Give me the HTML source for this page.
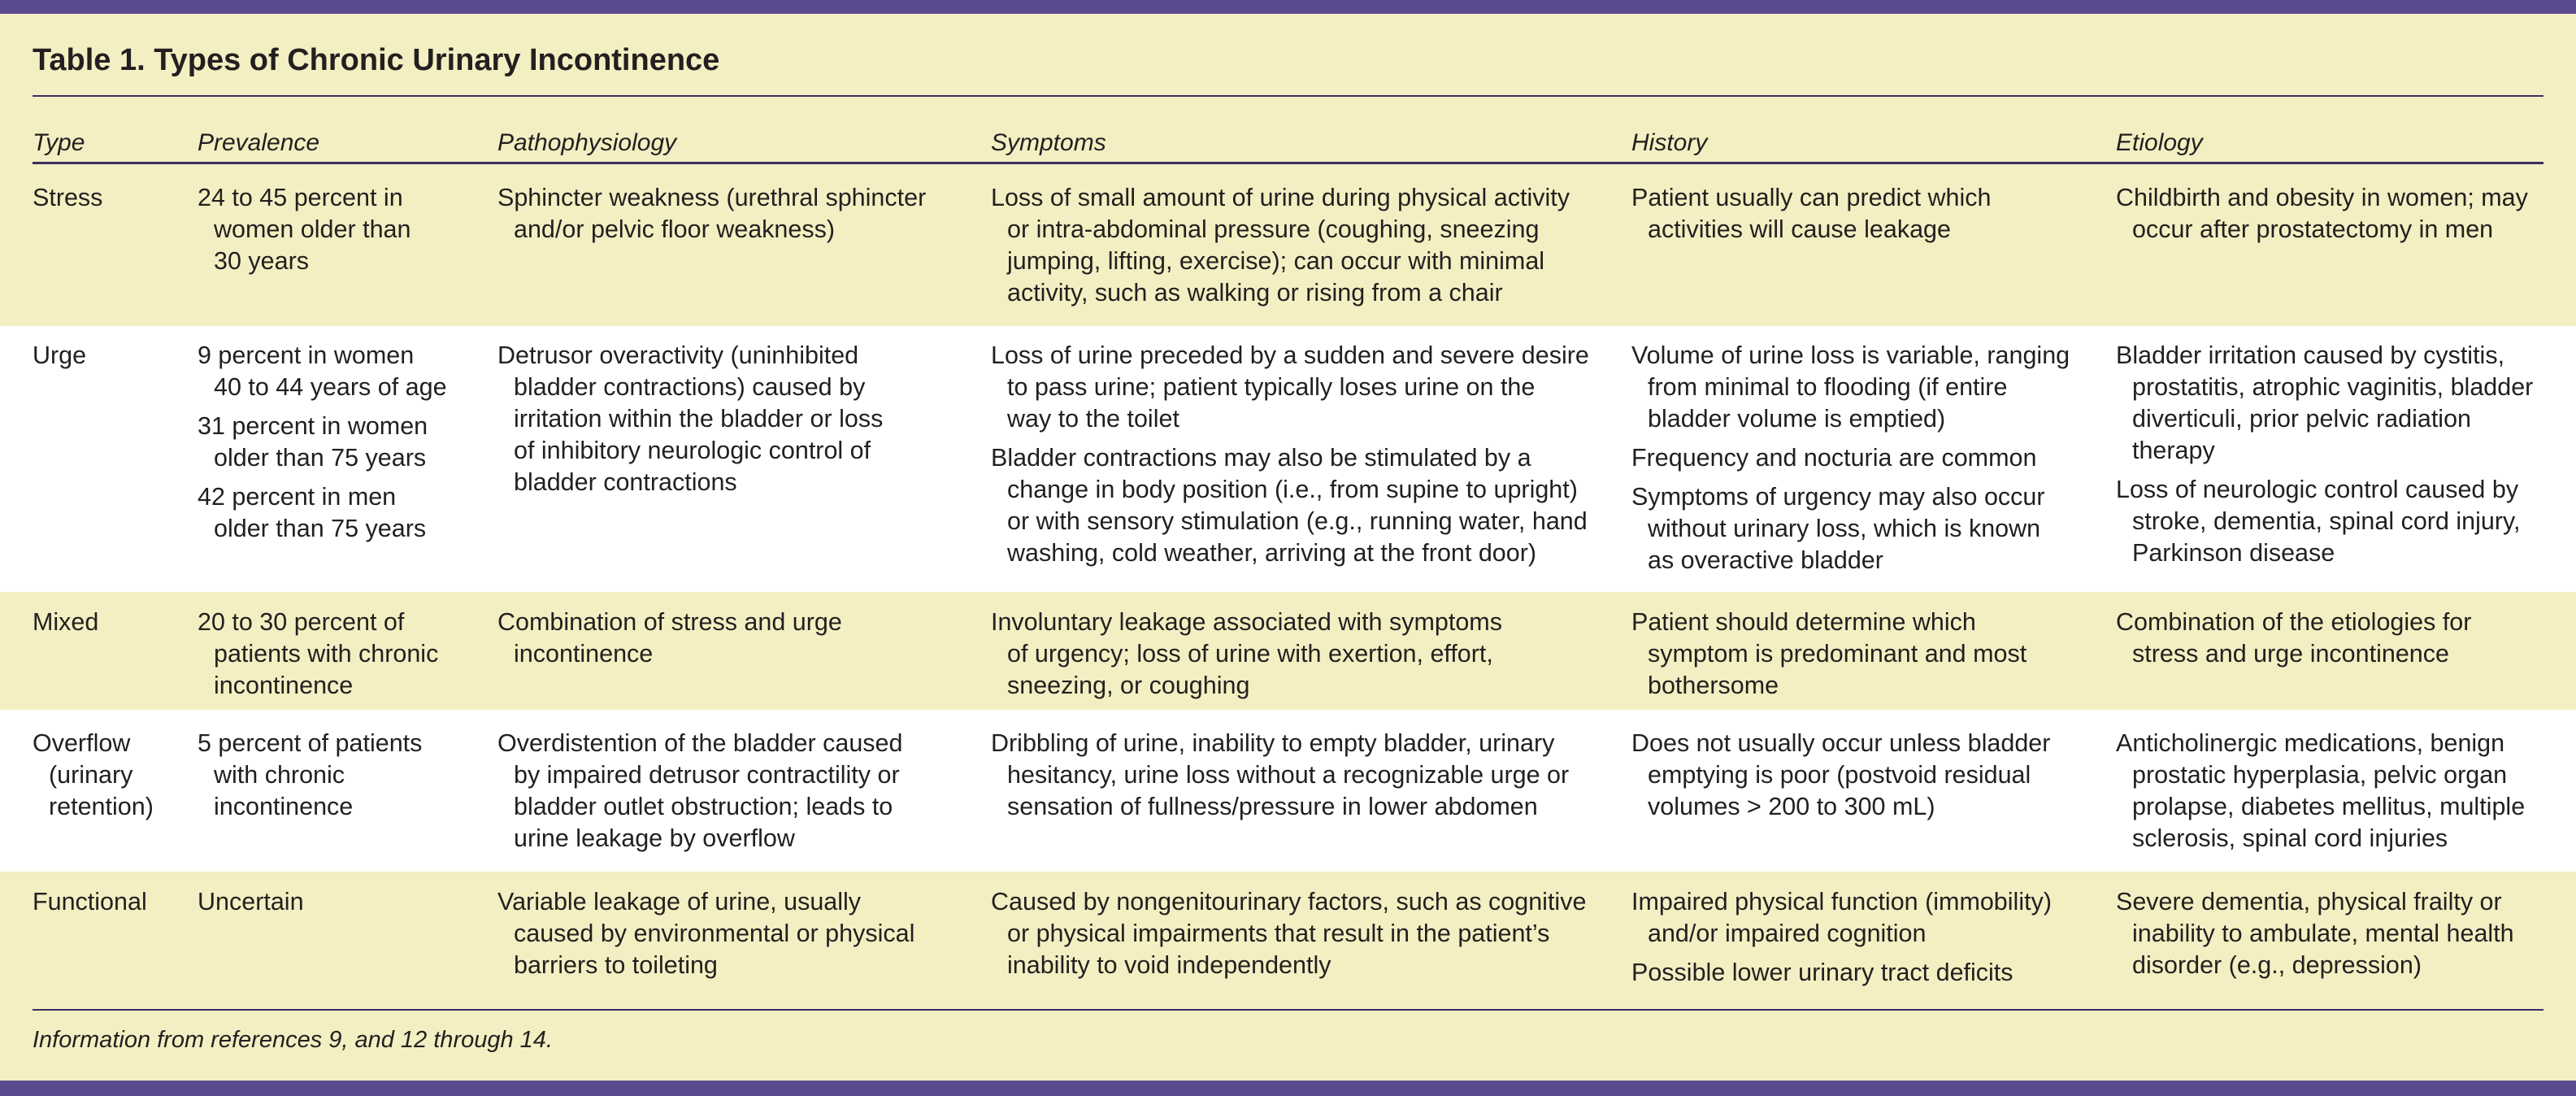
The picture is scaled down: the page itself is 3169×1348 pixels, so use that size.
<!DOCTYPE html>
<html><head><meta charset="utf-8">
<style>
*{margin:0;padding:0;box-sizing:border-box}
body{width:3169px;height:1348px;background:#f3efc2;position:relative;overflow:hidden;font-family:"Liberation Sans Narrow","Liberation Sans",sans-serif;color:#231f20}
.band{position:absolute;left:0;width:3169px;background:#5a4a8e}
.hl{position:absolute;left:40px;width:3089px;background:#3a2e64}
.row{position:absolute;left:0;width:3169px}
.white{background:#fff}
.cell{position:absolute;font-size:30.5px;line-height:39px;white-space:nowrap}
.cell p{padding-left:20px;text-indent:-20px}
.cell p+p{margin-top:9px}
.title{position:absolute;left:40px;top:51px;font-family:"Liberation Sans Narrow","Liberation Sans",sans-serif;font-weight:bold;font-size:38px;line-height:46px}
.hdr{position:absolute;top:156px;font-style:italic;font-size:30px;line-height:39px}
.foot{position:absolute;left:40px;top:1261px;font-style:italic;font-size:29px;line-height:36px}
</style></head><body>
<div class="band" style="top:0;height:17px"></div>
<div class="band" style="top:1329px;height:19px"></div>
<div class="title">Table 1. Types of Chronic Urinary Incontinence</div>
<div class="hl" style="top:117px;height:2px"></div>
<div class="hdr" style="left:40px">Type</div>
<div class="hdr" style="left:243px">Prevalence</div>
<div class="hdr" style="left:612px">Pathophysiology</div>
<div class="hdr" style="left:1219px">Symptoms</div>
<div class="hdr" style="left:2007px">History</div>
<div class="hdr" style="left:2603px">Etiology</div>
<div class="hl" style="top:199px;height:3px"></div>

<div class="row white" style="top:401px;height:327px"></div>
<div class="row white" style="top:873px;height:199px"></div>

<!-- Stress -->
<div class="cell" style="left:40px;top:224px"><p>Stress</p></div>
<div class="cell" style="left:243px;top:224px"><p>24 to 45 percent in<br>women older than<br>30 years</p></div>
<div class="cell" style="left:612px;top:224px"><p>Sphincter weakness (urethral sphincter<br>and/or pelvic floor weakness)</p></div>
<div class="cell" style="left:1219px;top:224px"><p>Loss of small amount of urine during physical activity<br>or intra-abdominal pressure (coughing, sneezing<br>jumping, lifting, exercise); can occur with minimal<br>activity, such as walking or rising from a chair</p></div>
<div class="cell" style="left:2007px;top:224px"><p>Patient usually can predict which<br>activities will cause leakage</p></div>
<div class="cell" style="left:2603px;top:224px"><p>Childbirth and obesity in women; may<br>occur after prostatectomy in men</p></div>

<!-- Urge -->
<div class="cell" style="left:40px;top:418px"><p>Urge</p></div>
<div class="cell" style="left:243px;top:418px"><p>9 percent in women<br>40 to 44 years of age</p><p>31 percent in women<br>older than 75 years</p><p>42 percent in men<br>older than 75 years</p></div>
<div class="cell" style="left:612px;top:418px"><p>Detrusor overactivity (uninhibited<br>bladder contractions) caused by<br>irritation within the bladder or loss<br>of inhibitory neurologic control of<br>bladder contractions</p></div>
<div class="cell" style="left:1219px;top:418px"><p>Loss of urine preceded by a sudden and severe desire<br>to pass urine; patient typically loses urine on the<br>way to the toilet</p><p>Bladder contractions may also be stimulated by a<br>change in body position (i.e., from supine to upright)<br>or with sensory stimulation (e.g., running water, hand<br>washing, cold weather, arriving at the front door)</p></div>
<div class="cell" style="left:2007px;top:418px"><p>Volume of urine loss is variable, ranging<br>from minimal to flooding (if entire<br>bladder volume is emptied)</p><p>Frequency and nocturia are common</p><p>Symptoms of urgency may also occur<br>without urinary loss, which is known<br>as overactive bladder</p></div>
<div class="cell" style="left:2603px;top:418px"><p>Bladder irritation caused by cystitis,<br>prostatitis, atrophic vaginitis, bladder<br>diverticuli, prior pelvic radiation<br>therapy</p><p>Loss of neurologic control caused by<br>stroke, dementia, spinal cord injury,<br>Parkinson disease</p></div>

<!-- Mixed -->
<div class="cell" style="left:40px;top:746px"><p>Mixed</p></div>
<div class="cell" style="left:243px;top:746px"><p>20 to 30 percent of<br>patients with chronic<br>incontinence</p></div>
<div class="cell" style="left:612px;top:746px"><p>Combination of stress and urge<br>incontinence</p></div>
<div class="cell" style="left:1219px;top:746px"><p>Involuntary leakage associated with symptoms<br>of urgency; loss of urine with exertion, effort,<br>sneezing, or coughing</p></div>
<div class="cell" style="left:2007px;top:746px"><p>Patient should determine which<br>symptom is predominant and most<br>bothersome</p></div>
<div class="cell" style="left:2603px;top:746px"><p>Combination of the etiologies for<br>stress and urge incontinence</p></div>

<!-- Overflow -->
<div class="cell" style="left:40px;top:895px"><p>Overflow<br>(urinary<br>retention)</p></div>
<div class="cell" style="left:243px;top:895px"><p>5 percent of patients<br>with chronic<br>incontinence</p></div>
<div class="cell" style="left:612px;top:895px"><p>Overdistention of the bladder caused<br>by impaired detrusor contractility or<br>bladder outlet obstruction; leads to<br>urine leakage by overflow</p></div>
<div class="cell" style="left:1219px;top:895px"><p>Dribbling of urine, inability to empty bladder, urinary<br>hesitancy, urine loss without a recognizable urge or<br>sensation of fullness/pressure in lower abdomen</p></div>
<div class="cell" style="left:2007px;top:895px"><p>Does not usually occur unless bladder<br>emptying is poor (postvoid residual<br>volumes &gt; 200 to 300 mL)</p></div>
<div class="cell" style="left:2603px;top:895px"><p>Anticholinergic medications, benign<br>prostatic hyperplasia, pelvic organ<br>prolapse, diabetes mellitus, multiple<br>sclerosis, spinal cord injuries</p></div>

<!-- Functional -->
<div class="cell" style="left:40px;top:1090px"><p>Functional</p></div>
<div class="cell" style="left:243px;top:1090px"><p>Uncertain</p></div>
<div class="cell" style="left:612px;top:1090px"><p>Variable leakage of urine, usually<br>caused by environmental or physical<br>barriers to toileting</p></div>
<div class="cell" style="left:1219px;top:1090px"><p>Caused by nongenitourinary factors, such as cognitive<br>or physical impairments that result in the patient’s<br>inability to void independently</p></div>
<div class="cell" style="left:2007px;top:1090px"><p>Impaired physical function (immobility)<br>and/or impaired cognition</p><p>Possible lower urinary tract deficits</p></div>
<div class="cell" style="left:2603px;top:1090px"><p>Severe dementia, physical frailty or<br>inability to ambulate, mental health<br>disorder (e.g., depression)</p></div>

<div class="hl" style="top:1241px;height:2px"></div>
<div class="foot">Information from references 9, and 12 through 14.</div>
</body></html>
